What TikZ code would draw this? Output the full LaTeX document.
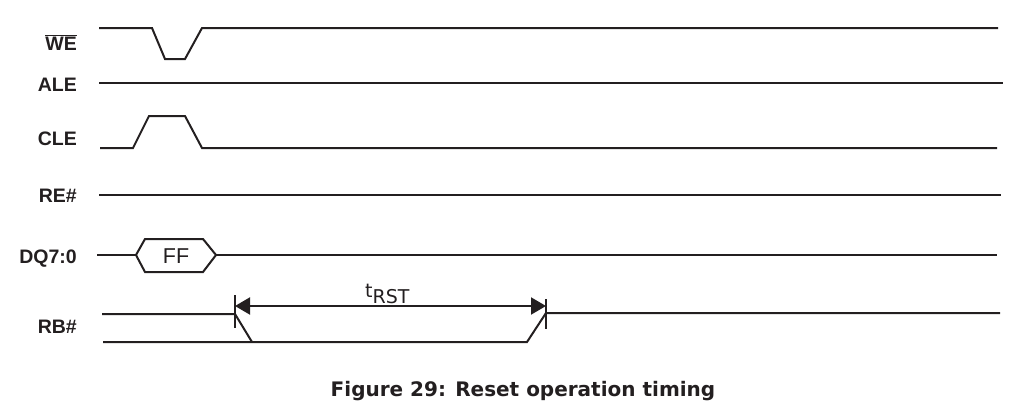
\documentclass[tikz,border=0pt]{standalone}
\usepackage{fontspec}
\setmainfont{Liberation Sans}
\newfontfamily\capfont{DejaVu Sans}
\usetikzlibrary{arrows.meta}
\definecolor{ink}{HTML}{231F20}
\begin{document}
\begin{tikzpicture}[x=1pt,y=-1pt,
  wave/.style={draw=ink,line width=2pt,line join=miter},
  sig/.style={anchor=base east,inner sep=0pt,font=\fontsize{19.5}{21}\selectfont\bfseries,text=ink},
  tick/.style={draw=ink,line width=2pt},
  dim/.style={draw=ink,line width=2pt,{Triangle[length=15pt,width=17pt]}-{Triangle[length=15pt,width=17pt]}}]
\useasboundingbox (0,0) rectangle (1031,413);
% labels
\node[sig] (lwe) at (77,50) {$\overline{\mbox{WE}}$};
\node[sig] (lale) at (77,91.5) {ALE};
\node[sig] (lcle) at (77,145) {CLE};
\node[sig] (lre) at (77,202) {RE\#};
\node[sig] (ldq) at (77,263) {DQ7:0};
\node[sig] (lrb) at (77,333) {RB\#};
% WE
\draw[wave] (99,28) -- (152,28) -- (165,59) -- (185,59) -- (202,28) -- (998,28);
% ALE
\draw[wave] (99,83) -- (1003,83);
% CLE
\draw[wave] (100,148) -- (133,148) -- (149,116) -- (185,116) -- (202,148) -- (997,148);
% RE#
\draw[wave] (99,195) -- (1001,195);
% DQ
\draw[wave] (97,255) -- (136,255);
\draw[wave] (136,255) -- (145,239) -- (203,239) -- (216,255) -- (203,272) -- (145,272) -- cycle;
\draw[wave] (216,255) -- (997,255);
\node[inner sep=0pt,font=\fontsize{21.5}{23}\selectfont,text=ink] (ff) at (176,256) {FF};
% RB#
\draw[wave] (102,314) -- (235,314) -- (252,342);
\draw[wave] (103,342) -- (527,342) -- (546,313) -- (1000,313);
\coordinate (t1) at (235,306);
\coordinate (t2) at (546,306);
\draw[tick] (235,295) -- (235,328);
\draw[tick] (546,299) -- (546,329);
\draw[dim] (t1) -- (t2);
\node[anchor=base west,inner sep=0pt,font=\capfont\fontsize{19}{21}\selectfont,text=ink] (trst) at (365,297) {t\raisebox{-6pt}{RST}};
% caption
\node[anchor=base,inner sep=0pt,font=\capfont\fontsize{20}{22}\selectfont\bfseries,text=ink] (cap) at (523,396) {Figure 29: Reset operation timing};
\end{tikzpicture}
\end{document}
